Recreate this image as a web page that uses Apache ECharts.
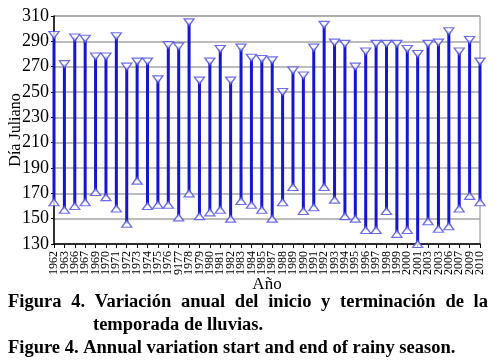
<!DOCTYPE html>
<html>
<head>
<meta charset="utf-8">
<script src="https://cdn.jsdelivr.net/npm/echarts@6/dist/echarts.min.js"></script>
<style>
  html, body { margin: 0; background: #fff; }
  #chart { width: 495px; height: 364px; }
</style>
</head>
<body>
<div id="chart"></div>
<script>
// categories as printed on the original axis (typos kept)
const years = ["1962", "1963", "1966", "1967", "1969", "1970", "1971", "1972", "1973", "1974",
  "1975", "1976", "9177", "1978", "1979", "1980", "1981", "1982", "1983", "1984",
  "1985", "1987", "1988", "1989", "1990", "1991", "1992", "1993", "1994", "1995",
  "1996", "1997", "1998", "1999", "2000", "2001", "2003", "2003", "2006", "2007",
  "2009", "2010"];
// inicio de la temporada (dia juliano)
const startDay = [163, 157, 160, 163, 171, 167, 158, 146, 180, 160,
  161, 161, 151, 170, 152, 155, 157, 150, 164, 161,
  157, 150, 163, 175, 156, 159, 175, 165, 152, 150,
  141, 141, 156, 138, 141, 130, 148, 142, 144, 158,
  168, 163];
// termino de la temporada
const endDay = [295, 272, 293, 292, 278, 278, 294, 270, 274, 274,
  260, 287, 286, 305, 259, 274, 284, 259, 285, 277,
  276, 275, 250, 267, 263, 285, 303, 289, 288, 270,
  282, 288, 288, 288, 284, 280, 288, 289, 298, 282,
  291, 274];

const captionEs1 = "Figura 4. Variación anual del inicio y terminación de la";
const captionEs2 = "temporada de lluvias.";
const captionEn = "Figure 4. Annual variation start and end of rainy season.";

const serif = "'Liberation Serif', 'DejaVu Serif', serif";
const captionFont = "bold 18.5px 'Liberation Serif'";

let chart = echarts.init(document.getElementById("chart"));

// justified first caption line: spread the words between two edges
function justifyLine(text, left, right, y) {
  const ctx = document.createElement("canvas").getContext("2d");
  ctx.font = captionFont;
  const words = text.split(" ");
  const widths = words.map((w) => ctx.measureText(w).width);
  const total = widths.reduce((a, b) => a + b, 0);
  const gap = (right - left - total) / (words.length - 1);
  let x = left;
  const out = [];
  words.forEach((w, i) => {
    out.push({
      type: "text",
      left: x,
      top: y,
      style: { text: w, font: captionFont, fill: "#000" },
    });
    x += widths[i] + gap;
  });
  return out;
}

const lineData = years.map((y, i) => [i, startDay[i], endDay[i]]);

chart.setOption({
  animation: false,
  grid: {
    left: 54,
    right: 15,
    top: 16,
    bottom: 120,
    outerBoundsMode: "none",
    show: true,
    borderColor: "#888",
    borderWidth: 1,
  },
  xAxis: {
    type: "category",
    data: years,
    boundaryGap: false,
    name: "Año",
    nameLocation: "middle",
    nameGap: 32,
    nameMoveOverlap: false,
    nameTextStyle: { fontFamily: serif, fontSize: 17, color: "#000" },
    axisLine: { lineStyle: { color: "#000", width: 1.5 } },
    axisTick: { interval: 0, length: 4, lineStyle: { color: "#000" } },
    axisLabel: {
      interval: 0,
      rotate: 90,
      margin: 7,
      fontFamily: serif,
      fontSize: 12,
      color: "#000",
    },
    splitLine: { show: false },
  },
  yAxis: {
    type: "value",
    min: 130,
    max: 310,
    interval: 20,
    name: "Día Juliano",
    nameLocation: "middle",
    nameGap: 30,
    nameMoveOverlap: false,
    nameTextStyle: { fontFamily: serif, fontSize: 16, color: "#000" },
    axisLine: { show: true, lineStyle: { color: "#000", width: 1.5 } },
    axisTick: { show: true, length: 3, lineStyle: { color: "#000" } },
    axisLabel: { fontFamily: serif, fontSize: 18, color: "#000", margin: 5 },
    splitLine: { lineStyle: { color: "#a6a6a6", width: 1.5 } },
  },
  series: [
    {
      type: "custom",
      data: lineData,
      encode: { x: 0, y: [1, 2] },
      renderItem: function (params, api) {
        const p0 = api.coord([api.value(0), api.value(1)]);
        const p1 = api.coord([api.value(0), api.value(2)]);
        return {
          type: "line",
          shape: { x1: p0[0], y1: p0[1], x2: p1[0], y2: p1[1] },
          style: { stroke: "#1515d4", lineWidth: 3 },
        };
      },
      z: 2,
    },
    {
      name: "inicio",
      type: "scatter",
      data: startDay.map((v, i) => [i, v]),
      symbol: "triangle",
      symbolSize: [10, 7],
      clip: false,
      itemStyle: { color: "#fff", borderColor: "#4a4ae4", borderWidth: 1.3 },
      z: 3,
    },
    {
      name: "fin",
      type: "scatter",
      data: endDay.map((v, i) => [i, v]),
      symbol: "triangle",
      symbolRotate: 180,
      symbolSize: [10, 7],
      clip: false,
      itemStyle: { color: "#fff", borderColor: "#4a4ae4", borderWidth: 1.3 },
      z: 3,
    },
  ],
  graphic: [
    ...justifyLine(captionEs1, 8, 488, 293),
    {
      type: "text",
      left: 93,
      top: 316,
      style: { text: captionEs2, font: captionFont, fill: "#000" },
    },
    {
      type: "text",
      left: 8,
      top: 339,
      style: { text: captionEn, font: captionFont, fill: "#000" },
    },
  ],
});
</script>
</body>
</html>
